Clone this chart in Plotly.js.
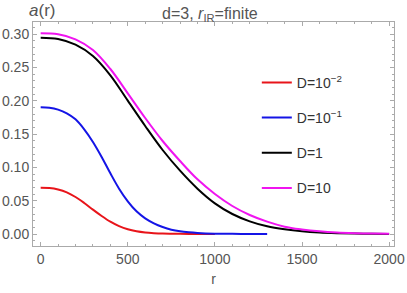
<!DOCTYPE html>
<html>
<head>
<meta charset="utf-8">
<script src="https://cdn.plot.ly/plotly-3.0.1.min.js"></script>
<style>html,body{margin:0;padding:0;background:#fff;}#chart{width:407px;height:293px;}</style>
</head>
<body>
<div id="chart"></div>
<script>
// D = 10^-2
const rRed = [0, 50, 100, 150, 200, 250, 300, 350, 400, 450, 500, 550, 600, 650, 700, 800, 900, 1000];
const aRed = [0.0695, 0.069, 0.0668, 0.0625, 0.0555, 0.0465, 0.0365, 0.027, 0.0185, 0.0118, 0.007, 0.004, 0.0022, 0.0012, 0.0006, 0.0002, 0.0001, 0];
// D = 10^-1
const rBlue = [0, 50, 100, 150, 200, 250, 300, 350, 400, 450, 500, 550, 600, 650, 700, 750, 800, 850, 900, 1000, 1100, 1200, 1300];
const aBlue = [0.190, 0.1893, 0.1865, 0.181, 0.172, 0.157, 0.138, 0.1155, 0.091, 0.068, 0.049, 0.034, 0.0235, 0.016, 0.0105, 0.0065, 0.004, 0.0025, 0.0015, 0.0005, 0.0002, 0.0001, 0];
// D = 1
const rBlack = [0, 100, 200, 300, 400, 500, 600, 700, 800, 900, 1000, 1100, 1200, 1300, 1400, 1500, 1600, 1700, 1800, 1900, 2000];
const aBlack = [0.2945, 0.2925, 0.284, 0.267, 0.238, 0.2, 0.162, 0.126, 0.095, 0.068, 0.046, 0.03, 0.019, 0.0115, 0.007, 0.004, 0.0022, 0.0012, 0.0006, 0.0003, 0.0001];
// D = 10
const rMag = [0, 100, 200, 300, 400, 500, 600, 700, 800, 900, 1000, 1100, 1200, 1300, 1400, 1500, 1600, 1700, 1800, 1900, 2000];
const aMag = [0.301, 0.2995, 0.292, 0.276, 0.2475, 0.211, 0.174, 0.1395, 0.1095, 0.082, 0.06, 0.042, 0.0285, 0.0185, 0.011, 0.0068, 0.004, 0.0022, 0.0012, 0.0006, 0.0003];

const seriesNames = ['D=10<sup>\u22122</sup>', 'D=10<sup>\u22121</sup>', 'D=1', 'D=10'];
const xTickVals = [0, 500, 1000, 1500, 2000];
const yTickVals = [0, 0.05, 0.10, 0.15, 0.20, 0.25, 0.30];
const yTickText = ['0.00', '0.05', '0.10', '0.15', '0.20', '0.25', '0.30'];

const colors = ['#e8141a', '#1414e6', '#000000', '#f014f0'];
const xs = [rRed, rBlue, rBlack, rMag];
const ys = [aRed, aBlue, aBlack, aMag];

const traces = xs.map((x, i) => ({
  x: x, y: ys[i], type: 'scatter', mode: 'lines',
  name: seriesNames[i], legendgroup: 'g' + i,
  line: {color: colors[i], width: 2, shape: 'spline', smoothing: 1}
}));

const axisCommon = {
  showgrid: false, zeroline: false, showline: true, mirror: 'allticks',
  linecolor: '#aaaaaa', linewidth: 1, ticks: 'inside', ticklen: 4, tickcolor: '#aaaaaa',
  tickfont: {family: 'Liberation Sans, Arial, sans-serif', size: 14, color: '#555555'}
};

const layout = {
  width: 407, height: 293,
  margin: {l: 33, r: 13, t: 22, b: 47},
  paper_bgcolor: '#ffffff', plot_bgcolor: '#ffffff',
  showlegend: true,
  title: {text: 'd=3, <i>r</i><sub>IR</sub>=finite', xref: 'paper', x: 0.49, xanchor: 'center', y: 0.955, yanchor: 'middle',
    font: {family: 'Liberation Sans, Arial, sans-serif', size: 16, color: '#555555'}},
  xaxis: Object.assign({}, axisCommon, {
    range: [-44, 2028], tickvals: xTickVals, ticktext: xTickVals.map(String),
    minor: {dtick: 100, tick0: 0, ticks: 'inside', ticklen: 2, tickcolor: '#aaaaaa'},
    title: {text: 'r', font: {family: 'Liberation Sans, Arial, sans-serif', size: 14, color: '#555555'}, standoff: 8}
  }),
  yaxis: Object.assign({}, axisCommon, {
    range: [-0.018, 0.318], tickvals: yTickVals, ticktext: yTickText,
    minor: {dtick: 0.01, tick0: 0, ticks: 'inside', ticklen: 2, tickcolor: '#aaaaaa'}
  }),
  legend: {x: 0.62, xanchor: 'left', y: 0.80, yanchor: 'top', bgcolor: 'rgba(0,0,0,0)',
    itemwidth: 30, tracegroupgap: 14,
    font: {family: 'Liberation Sans, Arial, sans-serif', size: 14, color: '#333333'}},
  annotations: [{
    text: '<i>a</i>(r)', xref: 'paper', yref: 'paper', x: -0.016, y: 1.0, xanchor: 'left', yanchor: 'bottom',
    showarrow: false, font: {family: 'Liberation Sans, Arial, sans-serif', size: 17, color: '#555555'}
  }]
};

Plotly.newPlot('chart', traces, layout, {staticPlot: true, displayModeBar: false});
</script>
</body>
</html>
